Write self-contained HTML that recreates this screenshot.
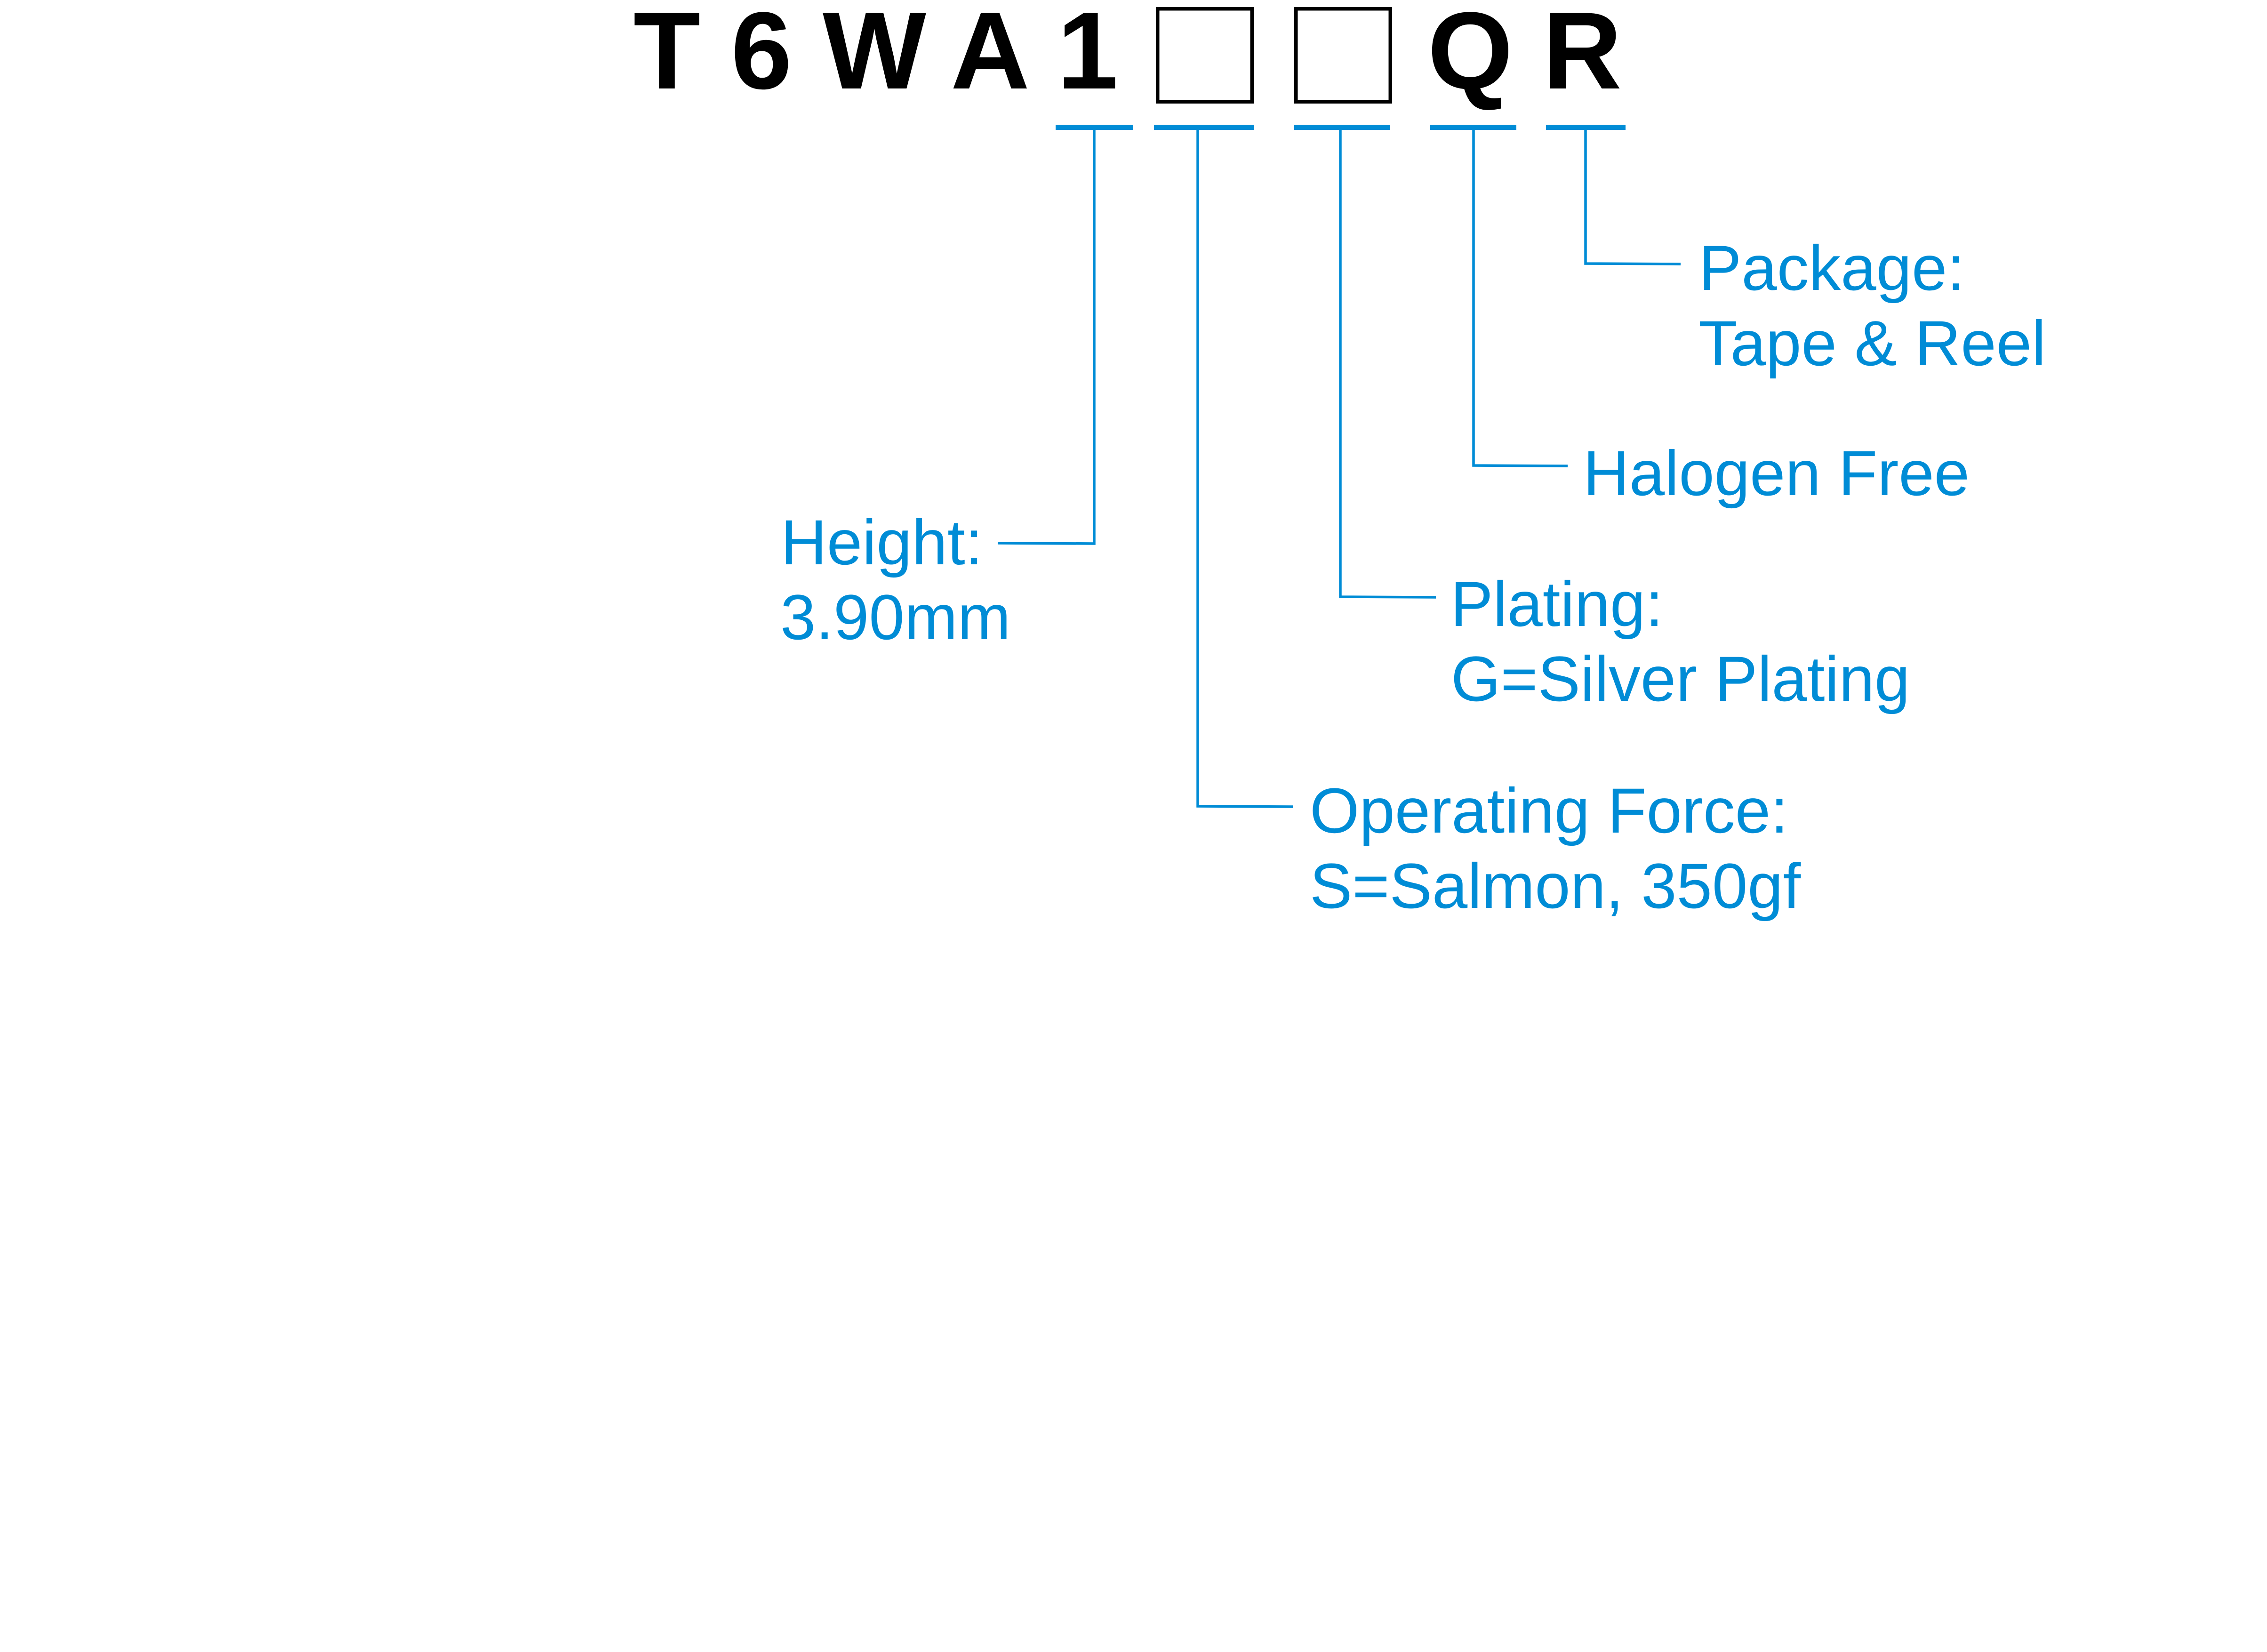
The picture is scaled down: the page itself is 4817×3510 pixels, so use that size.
<!DOCTYPE html>
<html>
<head>
<meta charset="utf-8">
<style>
  html, body { margin: 0; padding: 0; background: #ffffff; }
  body { width: 4817px; height: 3510px; overflow: hidden; }
  svg { display: block; }
  .t { font-family: "Liberation Sans", Arial, sans-serif; font-weight: bold; font-size: 233px; fill: #000; }
  .l { font-family: "Liberation Sans", Arial, sans-serif; font-size: 135.5px; fill: #008CD6; }
</style>
</head>
<body>
<svg width="4817" height="3510" viewBox="0 0 4817 3510" xmlns="http://www.w3.org/2000/svg">
  <rect x="0" y="0" width="4817" height="3510" fill="#ffffff"/>

  <!-- Title letters -->
  <text class="t" x="1417" y="188" text-anchor="middle">T</text>
  <text class="t" x="1618" y="188" text-anchor="middle">6</text>
  <text class="t" x="1858" y="188" text-anchor="middle">W</text>
  <text class="t" x="2104" y="188" text-anchor="middle">A</text>
  <text class="t" x="2311" y="188" text-anchor="middle">1</text>
  <text class="t" x="3124" y="188" text-anchor="middle">Q</text>
  <text class="t" x="3362" y="188" text-anchor="middle">R</text>

  <!-- Empty boxes -->
  <rect x="2459.75" y="18.75" width="200.5" height="197.5" fill="none" stroke="#000" stroke-width="7.5"/>
  <rect x="2753.75" y="18.75" width="200.5" height="197.5" fill="none" stroke="#000" stroke-width="7.5"/>

  <!-- Blue underlines -->
  <g fill="#008CD6">
    <rect x="2243" y="265" width="165" height="11"/>
    <rect x="2452" y="265" width="212" height="11"/>
    <rect x="2750" y="265" width="203" height="11"/>
    <rect x="3039" y="265" width="183" height="11"/>
    <rect x="3285" y="265" width="169" height="11"/>
  </g>

  <!-- Connectors -->
  <g fill="none" stroke="#008CD6" stroke-width="5.5">
    <polyline points="2325,276 2325,1155 2120,1154"/>
    <polyline points="2545,276 2545,1713 2747,1714"/>
    <polyline points="2848,276 2848,1268 3051,1269"/>
    <polyline points="3131,276 3131,989 3331,990"/>
    <polyline points="3369,276 3369,560 3571,561"/>
  </g>

  <!-- Labels -->
  <text class="l" x="1659" y="1199">Height:</text>
  <text class="l" x="1658" y="1358">3.90mm</text>

  <text class="l" x="2783" y="1769">Operating Force:</text>
  <text class="l" x="2783" y="1929">S=Salmon, 350gf</text>

  <text class="l" x="3082" y="1330">Plating:</text>
  <text class="l" x="3083" y="1489">G=Silver Plating</text>

  <text class="l" x="3364" y="1052">Halogen Free</text>

  <text class="l" x="3610" y="616">Package:</text>
  <text class="l" x="3609" y="776">Tape &amp; Reel</text>
</svg>
</body>
</html>
